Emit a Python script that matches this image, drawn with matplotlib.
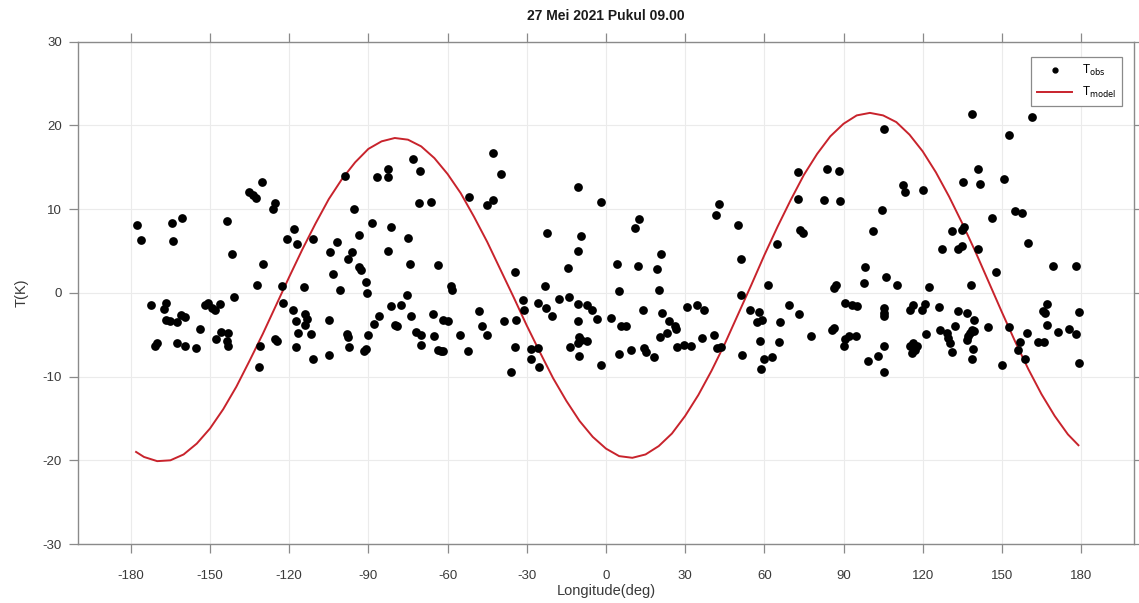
import matplotlib
matplotlib.use("Agg")
import matplotlib.pyplot as plt
from matplotlib.lines import Line2D

plt.rcParams['font.family'] = ['Liberation Sans', 'DejaVu Sans']
plt.rcParams['axes.unicode_minus'] = False

title = "27 Mei 2021 Pukul 09.00"
xlabel = "Longitude(deg)"
ylabel = "T(K)"
xticks = [-180, -150, -120, -90, -60, -30, 0, 30, 60, 90, 120, 150, 180]
yticks = [-30, -20, -10, 0, 10, 20, 30]

# Observed temperature perturbations (lon [deg], T [K])
obs = [
    (-177.5, 8.1), (-176.2, 6.3), (-164.3, 8.3), (-160.5, 8.9), (-163.9, 6.2),
    (-172.4, -1.5), (-166.5, -1.2), (-167.5, -1.9), (-166.5, -3.2), (-165.3, -3.3), (-162.6, -3.5), (-160.8, -2.6), (-159.4, -2.9),
    (-171.0, -6.3), (-170.2, -6.0), (-162.6, -6.0), (-159.4, -6.4), (-155.2, -6.6), (-153.8, -4.3),
    (-152.0, -1.5), (-150.8, -1.2), (-149.1, -1.8), (-148.2, -2.1), (-146.1, -1.3),
    (-147.6, -5.5), (-145.7, -4.7), (-143.2, -4.8), (-143.5, -5.8), (-143.3, -6.4),
    (-143.5, 8.6), (-141.7, 4.6), (-140.9, -0.5),
    (-135.3, 12.0), (-133.8, 11.7), (-132.5, 11.3), (-130.3, 13.2), (-125.5, 10.7), (-126.0, 10.0),
    (-130.0, 3.5), (-132.2, 1.0), (-122.6, 0.8), (-118.0, 7.6), (-120.9, 6.4), (-117.0, 5.8), (-111.1, 6.4), (-114.5, 0.7),
    (-122.4, -1.2), (-118.7, -2.1), (-114.2, -2.5), (-113.3, -3.1), (-117.3, -3.4), (-114.2, -3.8), (-116.7, -4.8), (-111.9, -4.9),
    (-105.0, -3.2), (-125.2, -5.5), (-124.6, -5.7), (-131.2, -6.4), (-131.5, -8.8), (-117.6, -6.5), (-111.1, -7.9), (-105.0, -7.4),
    (-98.1, -4.9), (-97.8, -5.3), (-97.4, -6.5), (-90.9, -6.7), (-91.5, -7.0), (-90.3, -5.0), (-88.0, -3.7), (-86.1, -2.8),
    (-90.6, 0.0), (-90.9, 1.3), (-93.4, 3.1), (-92.7, 2.7), (-97.7, 4.1), (-96.1, 4.9), (-93.7, 6.9), (-88.6, 8.4), (-95.6, 10.0),
    (-98.8, 14.0), (-86.8, 13.9), (-82.7, 14.8), (-82.7, 13.8), (-102.0, 6.1), (-104.4, 4.9), (-103.5, 2.2), (-100.7, 0.3),
    (-81.3, -1.6), (-77.6, -1.4), (-79.8, -3.8), (-79.3, -4.0), (-81.3, 7.9), (-82.7, 5.0),
    (-73.2, 16.0), (-70.3, 14.5), (-70.9, 10.7), (-66.3, 10.8), (-42.7, 16.7), (-39.8, 14.2), (-52.0, 11.4), (-44.9, 10.5), (-42.6, 11.1),
    (-75.1, 6.5), (-74.2, 3.5), (-63.8, 3.3), (-58.7, 0.8), (-58.3, 0.3), (-75.5, -0.2),
    (-73.8, -2.8), (-65.7, -2.5), (-61.9, -3.2), (-59.7, -3.3), (-72.0, -4.7), (-70.1, -5.0), (-70.1, -6.2), (-65.0, -5.1),
    (-63.8, -6.8), (-62.5, -7.0), (-61.6, -7.0), (-55.3, -5.0), (-52.4, -6.9), (-48.0, -2.2), (-46.8, -4.0), (-44.9, -5.0),
    (-38.6, -3.3), (-34.5, 2.5), (-33.9, -3.2), (-31.6, -0.8), (-31.0, -2.1), (-34.4, -6.5), (-28.4, -6.7), (-25.6, -6.6),
    (-28.4, -7.9), (-25.3, -8.8), (-35.8, -9.5), (-23.0, 0.8), (-25.9, -1.2), (-22.8, -1.8), (-20.3, -2.8), (-22.4, 7.1),
    (-17.8, -0.7), (-14.0, -0.5), (-10.5, -1.3), (-7.0, -1.5), (-5.2, -2.1), (-3.3, -3.1), (-10.5, -3.3),
    (-14.3, 3.0), (-10.6, 5.0), (-9.3, 6.8), (-10.5, 12.6), (-2.0, 10.9),
    (-13.7, -6.5), (-10.2, -5.3), (-9.6, -5.6), (-10.5, -6.0), (-7.0, -5.7), (-10.2, -7.5), (-2.0, -8.6), (1.8, -3.0),
    (12.5, 8.8), (11.0, 7.7), (42.7, 10.6), (41.6, 9.3), (49.9, 8.1), (72.6, 14.4), (72.9, 11.2), (73.7, 7.5), (74.5, 7.2),
    (64.8, 5.8), (51.0, 4.1), (4.3, 3.5), (12.2, 3.2), (20.7, 4.7), (19.4, 2.9), (4.9, 0.2), (20.1, 0.4), (51.0, -0.2),
    (61.4, 0.9), (69.5, -1.5), (73.0, -2.5), (66.1, -3.5), (77.7, -5.2), (5.6, -4.0), (7.5, -3.9), (14.0, -2.0),
    (21.3, -2.4), (23.8, -3.4), (26.1, -3.9), (26.6, -4.3), (23.2, -4.8), (20.3, -5.3), (30.8, -1.7), (34.6, -1.5), (37.1, -2.1),
    (36.4, -5.4), (40.9, -5.0), (42.1, -6.6), (43.4, -6.5), (27.0, -6.5), (29.5, -6.2), (32.4, -6.4),
    (4.9, -7.3), (9.4, -6.8), (14.4, -6.6), (15.0, -7.1), (18.2, -7.6), (51.6, -7.4), (54.7, -2.1), (57.9, -2.3),
    (59.1, -3.2), (57.3, -3.5), (58.3, -5.7), (65.5, -5.9), (59.8, -7.9), (62.9, -7.6), (58.9, -9.1),
    (83.7, 14.8), (88.4, 14.6), (82.5, 11.1), (88.5, 11.0), (112.4, 12.9), (113.4, 12.0), (120.3, 12.3), (104.5, 9.9), (101.0, 7.4),
    (105.2, 19.6), (138.6, 21.4), (161.3, 21.0), (152.8, 18.8), (135.4, 13.3), (140.8, 14.8), (141.7, 13.0), (150.8, 13.6),
    (155.0, 9.8), (157.7, 9.5), (146.1, 8.9), (160.0, 5.9), (131.0, 7.4), (135.7, 7.9), (134.8, 7.5), (127.2, 5.2),
    (133.3, 5.2), (134.8, 5.6), (140.8, 5.3), (147.8, 2.5), (169.5, 3.2), (177.9, 3.2), (138.3, 1.0),
    (98.0, 3.1), (97.6, 1.2), (106.0, 1.9), (110.2, 1.0), (122.4, 0.7), (86.3, 0.6), (87.1, 1.0),
    (90.4, -1.2), (93.2, -1.4), (95.1, -1.6), (105.5, -1.8), (105.5, -2.4), (105.5, -2.8), (115.3, -2.0), (116.5, -1.4),
    (119.7, -2.0), (120.9, -1.3), (126.3, -1.7), (133.5, -2.2), (136.7, -2.4), (139.6, -3.2), (144.9, -4.1), (152.7, -4.1),
    (166.9, -1.3), (165.4, -2.2), (166.3, -2.4), (179.3, -2.3), (166.9, -3.8), (171.1, -4.7), (175.4, -4.3), (177.9, -4.9),
    (159.6, -4.8), (163.8, -5.9), (166.0, -5.9), (156.9, -5.9), (156.2, -6.8), (158.6, -7.9), (150.2, -8.6), (179.4, -8.4),
    (85.6, -4.4), (86.3, -4.2), (90.7, -5.5), (92.2, -5.2), (94.7, -5.1), (90.0, -6.4), (105.4, -6.3), (103.0, -7.5),
    (99.1, -8.1), (105.5, -9.5), (115.3, -6.4), (116.5, -6.0), (117.2, -6.8), (115.9, -7.2), (117.8, -6.4), (121.3, -4.9),
    (126.6, -4.4), (129.1, -4.8), (129.7, -5.4), (130.4, -6.0), (131.0, -7.1), (132.3, -4.0), (137.3, -5.2), (138.0, -4.8),
    (138.6, -4.4), (139.6, -4.6), (136.7, -5.6), (139.2, -6.7), (138.8, -7.9),
]
lon_obs = [p[0] for p in obs]
t_obs = [p[1] for p in obs]

# Model curve
lon_model = [-178, -175, -170, -165, -160, -155, -150, -145, -140, -135, -130, -125, -120,
             -115, -110, -105, -100, -95, -90, -85, -80, -75, -70, -65, -60, -55, -50,
             -45, -40, -35, -30, -25, -20, -15, -10, -5, 0, 5, 10, 15, 20, 25, 30,
             35, 40, 45, 50, 55, 60, 65, 70, 75, 80, 85, 90, 95, 100, 105, 110,
             115, 120, 125, 130, 135, 140, 145, 150, 155, 160, 165, 170, 175, 179]
t_model = [-19.0, -19.6, -20.1, -20.0, -19.3, -18.0, -16.2, -13.9, -11.2, -8.1, -4.9, -1.5, 1.9,
           5.2, 8.3, 11.2, 13.6, 15.6, 17.2, 18.1, 18.5, 18.3, 17.5, 16.1, 14.2, 11.9, 9.1,
           6.1, 2.8, -0.5, -3.9, -7.1, -10.2, -12.9, -15.3, -17.2, -18.6, -19.5, -19.7, -19.3, -18.3, -16.8, -14.7,
           -12.2, -9.3, -6.1, -2.6, 0.9, 4.5, 7.9, 11.1, 14.1, 16.6, 18.7, 20.2, 21.2, 21.5, 21.2, 20.4,
           18.9, 16.9, 14.4, 11.5, 8.3, 4.9, 1.3, -2.3, -5.8, -9.1, -12.1, -14.7, -16.9, -18.2]

red = '#c8232c'
fig = plt.figure(figsize=(11.39, 6.03), dpi=100)
ax = fig.add_axes([0.0685, 0.0978, 0.927, 0.8330])

ax.plot(lon_obs, t_obs, 'o', color='black', markersize=6.3, markeredgewidth=0, zorder=3)
ax.plot(lon_model, t_model, '-', color=red, linewidth=1.4, zorder=2)

ax.set_xlim(-200, 200)
ax.set_ylim(-30, 30)
ax.set_xticks(xticks)
ax.set_yticks(yticks)
ax.set_xticklabels([str(v) for v in xticks])
ax.set_yticklabels([str(v) for v in yticks])

ax.grid(True, color='#ebebeb', linewidth=0.8, zorder=0)
ax.set_axisbelow(True)
for s in ax.spines.values():
    s.set_color('#8a8a8a')
    s.set_linewidth(1.0)
ax.tick_params(direction='out', length=6.5, width=0.9, colors='#8a8a8a',
               labelcolor='#3a3a3a', labelsize=9.5,
               top=True, right=True, labeltop=False, labelright=False)
ax.tick_params(axis='x', pad=12)
ax.tick_params(axis='y', pad=5)

ax.set_title(title, fontsize=10, fontweight='bold', pad=16, color='#1a1a1a')
ax.set_xlabel(xlabel, fontsize=10.5, color='#3a3a3a', labelpad=2)
ax.set_ylabel(ylabel, fontsize=10.5, color='#3a3a3a', labelpad=10)

handles = [Line2D([], [], marker='o', linestyle='none', color='black', markersize=3.5),
           Line2D([], [], color=red, linewidth=1.4)]
leg = ax.legend(handles, [r'T$_{\mathrm{obs}}$', r'T$_{\mathrm{model}}$'],
                loc='upper right', bbox_to_anchor=(0.9886, 0.9695), borderaxespad=0,
                fontsize=8.5, frameon=True, fancybox=False, handlelength=3.0,
                edgecolor='#8a8a8a', framealpha=1, borderpad=0.5, labelspacing=0.6)
leg.get_frame().set_linewidth(0.9)

fig.savefig('out.png', dpi=100)
